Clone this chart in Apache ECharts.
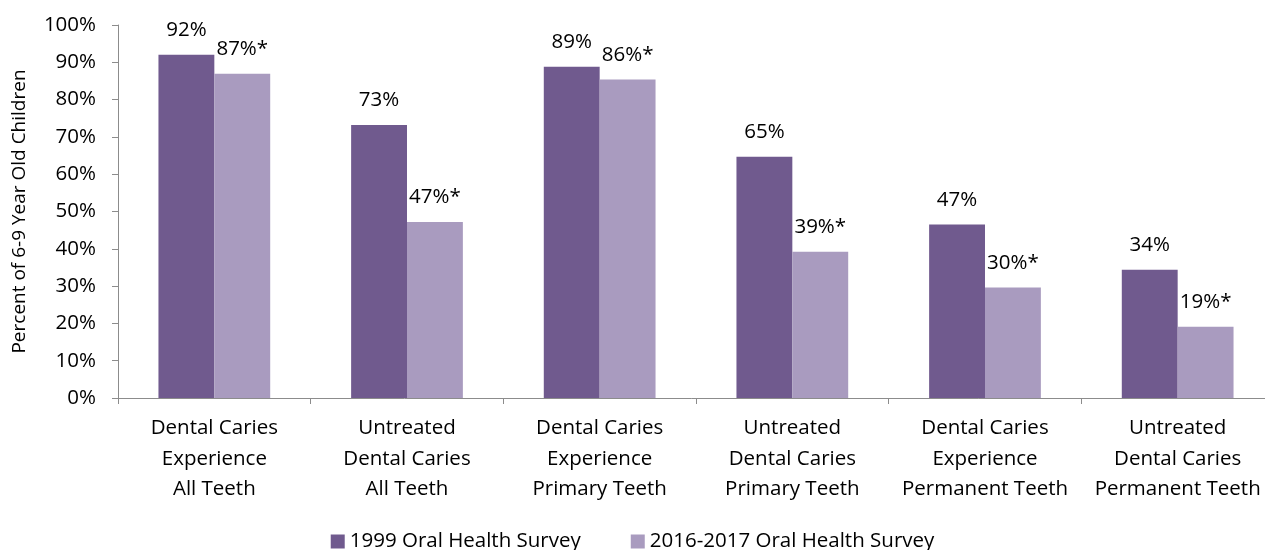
<!DOCTYPE html>
<html><head><meta charset="utf-8">
<script src="https://cdn.jsdelivr.net/npm/echarts@6/dist/echarts.min.js"></script>
<style>html,body{margin:0;padding:0;background:#fff}#c{width:1265px;height:550px}</style>
</head><body><div id="c"></div>
<script>
const categories = [
  "Dental Caries\nExperience\nAll Teeth",
  "Untreated\nDental Caries\nAll Teeth",
  "Dental Caries\nExperience\nPrimary Teeth",
  "Untreated\nDental Caries\nPrimary Teeth",
  "Dental Caries\nExperience\nPermanent Teeth",
  "Untreated\nDental Caries\nPermanent Teeth"
];
const seriesNames = ["1999 Oral Health Survey", "2016-2017 Oral Health Survey"];
const values1999 = [92.0, 73.2, 88.8, 64.7, 46.5, 34.4];
const values2016 = [86.9, 47.2, 85.4, 39.2, 29.6, 19.1];
const labels1999 = ["92%", "73%", "89%", "65%", "47%", "34%"];
const labels2016 = ["87%*", "47%*", "86%*", "39%*", "30%*", "19%*"];
const yTicks = [0, 10, 20, 30, 40, 50, 60, 70, 80, 90, 100];

const FONT = "Open Sans";
const FS = 20.5;
const chart = echarts.init(document.getElementById('c'));
chart.setOption({
  animation: false,
  textStyle: { fontFamily: FONT, color: '#000' },
  grid: { left: 118, top: 25, width: 1156, height: 373, containLabel: false, outerBoundsMode: 'none' },
  legend: {
    top: 526, left: 'center', itemGap: 50, itemWidth: 14, itemHeight: 14,
    icon: 'rect',
    textStyle: { fontFamily: FONT, fontSize: FS, color: '#000' },
    data: seriesNames
  },
  xAxis: {
    type: 'category', data: categories,
    axisLine: { lineStyle: { color: '#8c8c8c', width: 1 } },
    axisTick: { show: true, alignWithLabel: false, length: 6, lineStyle: { color: '#8c8c8c' } },
    axisLabel: { fontFamily: FONT, fontSize: FS, color: '#000', lineHeight: 30.5, margin: 15, interval: 0 }
  },
  yAxis: {
    type: 'value', min: 0, max: 100, interval: 10,
    name: 'Percent of 6-9 Year Old Children', nameLocation: 'middle', nameGap: 89,
    nameTextStyle: { fontFamily: FONT, fontSize: 19, color: '#000' },
    axisLine: { show: true, lineStyle: { color: '#8c8c8c' } },
    axisTick: { show: true, length: 6, lineStyle: { color: '#8c8c8c' } },
    splitLine: { show: false },
    axisLabel: { fontFamily: FONT, fontSize: FS, color: '#000', margin: 22,
      formatter: v => yTicks.includes(v) ? v + '%' : '' }
  },
  series: [
    { name: seriesNames[0], type: 'bar', data: values1999, barGap: '0%', barCategoryGap: '42%',
      itemStyle: { color: '#705A8E' },
      label: { show: true, position: 'top', distance: 14, fontFamily: FONT, fontSize: FS, color: '#000',
        formatter: p => labels1999[p.dataIndex] } },
    { name: seriesNames[1], type: 'bar', data: values2016, barGap: '0%', barCategoryGap: '42%',
      itemStyle: { color: '#A99BBF' },
      label: { show: true, position: 'top', distance: 14, fontFamily: FONT, fontSize: FS, color: '#000',
        formatter: p => labels2016[p.dataIndex] } }
  ]
});
</script></body></html>
